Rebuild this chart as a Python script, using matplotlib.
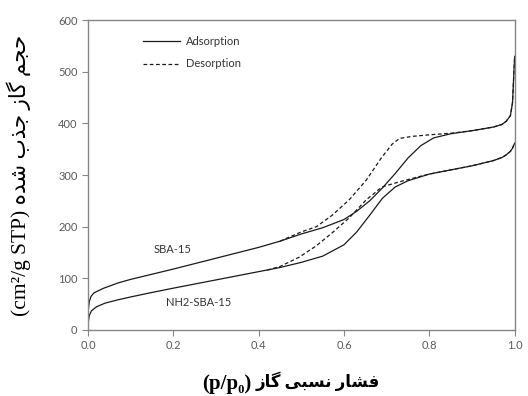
import numpy as np
import matplotlib.pyplot as plt

# Persian text: matplotlib has no shaping, so map letters to presentation forms by hand
FORMS = {
    'ح': '\uFEA1\uFEA2\uFEA3\uFEA4', 'ج': '\uFE9D\uFE9E\uFE9F\uFEA0',
    'م': '\uFEE1\uFEE2\uFEE3\uFEE4', 'گ': '\uFB92\uFB93\uFB94\uFB95',
    'ب': '\uFE8F\uFE90\uFE91\uFE92', 'ش': '\uFEB5\uFEB6\uFEB7\uFEB8',
    'ه': '\uFEE9\uFEEA\uFEEB\uFEEC', 'ف': '\uFED1\uFED2\uFED3\uFED4',
    'ن': '\uFEE5\uFEE6\uFEE7\uFEE8', 'س': '\uFEB1\uFEB2\uFEB3\uFEB4',
    'ی': '\uFBFC\uFBFD\uFBFE\uFBFF',
    'ا': '\uFE8D\uFE8E', 'ز': '\uFEAF\uFEB0', 'ذ': '\uFEAB\uFEAC',
    'د': '\uFEA9\uFEAA', 'ر': '\uFEAD\uFEAE',
}


def shape_word(w):
    out = []
    for i, ch in enumerate(w):
        f = FORMS[ch]
        prev = i > 0 and len(FORMS[w[i - 1]]) == 4
        nxt = len(f) == 4 and i < len(w) - 1
        idx = 3 if (prev and nxt) else 1 if prev else 2 if nxt else 0
        out.append(f[idx])
    return ''.join(reversed(out))


def rtl(text):
    return ' '.join(shape_word(w) for w in reversed(text.split()))


# data
p_ads1 = [0.0, 0.003, 0.007, 0.014, 0.037, 0.07, 0.1, 0.14, 0.2, 0.3, 0.4, 0.45, 0.5, 0.55,
          0.6, 0.63, 0.66, 0.69, 0.72, 0.75, 0.78, 0.81, 0.85, 0.9, 0.95, 0.97, 0.98, 0.99,
          0.995, 1.0]
v_ads1 = [35, 55, 65, 72, 81, 91, 98, 106, 118, 139, 160, 172, 186, 198,
          214, 230, 250, 275, 303, 333, 357, 372, 380, 386, 393, 398, 404, 415,
          440, 530]
p_des1 = [0.45, 0.5, 0.535, 0.572, 0.612, 0.652, 0.689, 0.713, 0.73, 0.76, 0.8, 0.85, 0.9,
          0.95, 0.97, 0.98, 0.99, 0.995, 1.0]
v_des1 = [172, 190, 200, 222, 252, 290, 335, 360, 371, 375, 378, 381, 386,
          393, 398, 404, 415, 440, 530]

p_ads2 = [0.0, 0.003, 0.008, 0.02, 0.04, 0.068, 0.1, 0.14, 0.2, 0.3, 0.4, 0.45, 0.5, 0.55,
          0.6, 0.63, 0.66, 0.69, 0.72, 0.75, 0.8, 0.85, 0.9, 0.95, 0.97, 0.98, 0.99,
          0.995, 1.0]
v_ads2 = [12, 28, 37, 45, 52, 58, 64, 71, 81, 97, 113, 121, 131, 143,
          165, 190, 222, 255, 277, 289, 302, 310, 318, 328, 334, 339, 346,
          352, 362]
p_des2 = [0.42, 0.45, 0.495, 0.535, 0.572, 0.612, 0.652, 0.689, 0.73, 0.776, 0.8, 0.85,
          0.9, 0.95, 0.97, 0.98, 0.99, 0.995, 1.0]
v_des2 = [116, 123, 141, 163, 188, 217, 252, 277, 287, 297, 302, 310,
          318, 328, 334, 339, 346, 352, 362]

xticks = [0.0, 0.2, 0.4, 0.6, 0.8, 1.0]
yticks = [0, 100, 200, 300, 400, 500, 600]

plt.rcParams['font.family'] = ['Lato', 'DejaVu Sans']

fig = plt.figure(figsize=(5.28, 3.96), dpi=100)
ax = fig.add_axes([0.1667, 0.1667, 0.808, 0.7823])

line_kw = dict(color='#1a1a1a', lw=0.9)
ax.plot(p_ads1, v_ads1, label='Adsorption', **line_kw)
ax.plot(p_des1, v_des1, ls=(0, (3, 2)), label='Desorption', **line_kw)
ax.plot(p_ads2, v_ads2, **line_kw)
ax.plot(p_des2, v_des2, ls=(0, (3, 2)), **line_kw)

ax.set_xlim(0, 1.0)
ax.set_ylim(0, 600)
ax.set_xticks(xticks, [f'{t:.1f}' for t in xticks])
ax.set_yticks(yticks, [str(t) for t in yticks])
ax.tick_params(labelsize=8, labelcolor='#595959', color='#868686', length=4, width=0.8)
for s in ax.spines.values():
    s.set_color('#868686')
    s.set_linewidth(1.0)

ax.text(0.154, 155, 'SBA-15', fontsize=8, color='#333333', va='center')
ax.text(0.182, 54, 'NH2-SBA-15', fontsize=8, color='#333333', va='center')

ax.legend(loc='upper left', bbox_to_anchor=(0.128, 0.948), frameon=False, fontsize=8,
          handlelength=3.4, handletextpad=0.5, labelspacing=1.0, borderpad=0,
          borderaxespad=0, labelcolor='#333333')

serif = ['Liberation Serif', 'DejaVu Sans']
fig.text(0.383, 0.031, '(p/p\u2080)', ha='left', va='center',
         fontsize=15, fontweight='bold', family=serif)
fig.text(0.72, 0.036, rtl('فشار نسبی گاز'), ha='right', va='center',
         fontsize=12, fontweight='bold', family=serif)
fig.text(0.036, 0.558, '(cm\u00b2/g STP) ' + rtl('حجم گاز جذب شده'), ha='center', va='center',
         rotation=90, fontsize=15.5, family=serif)

fig.savefig('out.png', dpi=100)
